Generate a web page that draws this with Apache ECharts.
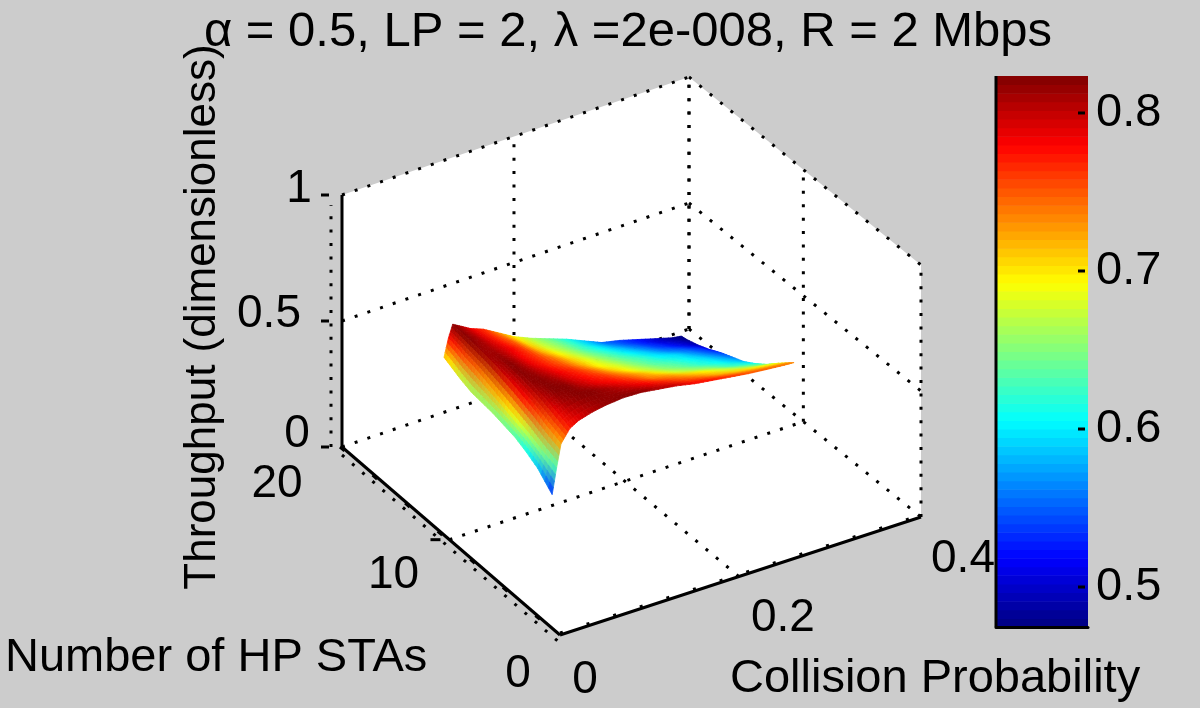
<!DOCTYPE html>
<html lang="en">
  <head>
    <meta charset="UTF-8" />
    <title>Throughput surface</title>
    <script src="https://cdn.jsdelivr.net/npm/echarts@6/dist/echarts.min.js"></script>
    <style>
      html, body { margin: 0; padding: 0; background: #cccccc; }
    </style>
  </head>
  <body>
    <div id="main" style="width: 1200px; height: 708px"></div>
    <script type="text/javascript">
      // collision probability (columns of the table)
      const collisionProb = [0, 0.005, 0.01, 0.02, 0.03, 0.045, 0.06, 0.08, 0.1, 0.12, 0.14, 0.16, 0.18, 0.2, 0.22, 0.24, 0.26, 0.27];
      // number of HP STAs (rows of the table)
      const hpStas = [0.7, 2, 3, 4, 5, 6, 7, 8, 9, 10, 10.5];
      // throughput
      const throughput = [
        [0.53, 0.63, 0.72, 0.77, 0.79, 0.805, 0.815, 0.822, 0.82, 0.81, 0.8, 0.785, 0.775, 0.765, 0.755, 0.748, 0.742, 0.74],
        [0.585, 0.65, 0.74, 0.79, 0.81, 0.822, 0.82, 0.808, 0.795, 0.78, 0.767, 0.752, 0.737, 0.722, 0.71, 0.7, 0.692, 0.688],
        [0.61, 0.67, 0.76, 0.805, 0.822, 0.82, 0.807, 0.79, 0.775, 0.76, 0.74, 0.727, 0.71, 0.697, 0.68, 0.665, 0.65, 0.645],
        [0.63, 0.685, 0.775, 0.815, 0.82, 0.81, 0.795, 0.775, 0.76, 0.74, 0.72, 0.7, 0.68, 0.665, 0.65, 0.632, 0.617, 0.61],
        [0.64, 0.7, 0.79, 0.82, 0.815, 0.8, 0.785, 0.765, 0.742, 0.718, 0.695, 0.675, 0.655, 0.64, 0.623, 0.61, 0.59, 0.58],
        [0.65, 0.715, 0.8, 0.822, 0.81, 0.79, 0.772, 0.752, 0.725, 0.698, 0.677, 0.655, 0.638, 0.623, 0.607, 0.59, 0.57, 0.56],
        [0.655, 0.73, 0.81, 0.815, 0.805, 0.783, 0.765, 0.74, 0.71, 0.685, 0.66, 0.64, 0.623, 0.605, 0.59, 0.57, 0.55, 0.54],
        [0.66, 0.745, 0.815, 0.812, 0.8, 0.78, 0.76, 0.725, 0.695, 0.67, 0.645, 0.625, 0.605, 0.585, 0.565, 0.55, 0.53, 0.515],
        [0.675, 0.755, 0.82, 0.81, 0.795, 0.772, 0.752, 0.712, 0.68, 0.655, 0.63, 0.608, 0.585, 0.565, 0.545, 0.525, 0.505, 0.495],
        [0.695, 0.77, 0.822, 0.807, 0.79, 0.765, 0.74, 0.7, 0.67, 0.645, 0.62, 0.59, 0.565, 0.545, 0.525, 0.505, 0.488, 0.48],
        [0.705, 0.775, 0.825, 0.805, 0.785, 0.765, 0.735, 0.695, 0.665, 0.64, 0.615, 0.585, 0.555, 0.54, 0.52, 0.5, 0.48, 0.475]
      ];
      const xTicks = [0, 0.2, 0.4];
      const yTicks = [0, 10, 20];
      const zTicks = [0, 0.5, 1];
      const xTickLabels = ["0", "0.2", "0.4"];
      const yTickLabels = ["0", "10", "20"];
      const zTickLabels = ["0", "0.5", "1"];
      const colorbarTicks = [0.5, 0.6, 0.7, 0.8];
      const colorLimits = [0.4747, 0.8234];

      const FONT = '"Liberation Sans", Arial, sans-serif';
      const xMax = 0.4, yMax = 20;

      // floor corners of the 3d box in page pixels, slight perspective between them
      const p00 = [560, 635], p10 = [921, 517], p11 = [689, 329], p01 = [342, 447];
      const zScale = 252;
      const dx1 = p10[0] - p11[0], dy1 = p10[1] - p11[1];
      const dx2 = p01[0] - p11[0], dy2 = p01[1] - p11[1];
      const sx = p00[0] - p10[0] + p11[0] - p01[0], sy = p00[1] - p10[1] + p11[1] - p01[1];
      const det = dx1 * dy2 - dx2 * dy1;
      const g = (sx * dy2 - sy * dx2) / det, h = (dx1 * sy - sx * dy1) / det;

      function project(x, y, z) {
        let u = x / xMax, v = y / yMax;
        let w = g * u + h * v + 1;
        let px = ((p10[0] - p00[0] + g * p10[0]) * u + (p01[0] - p00[0] + h * p01[0]) * v + p00[0]) / w;
        let py = ((p10[1] - p00[1] + g * p10[1]) * u + (p01[1] - p00[1] + h * p01[1]) * v + p00[1]) / w;
        return [px, py - zScale * z];
      }

      // matlab jet with 64 levels
      function jetRgb(level) {
        let t = (level + 0.5) / 64;
        let c = (d) => 255 * Math.max(0, Math.min(1, 1.5 - Math.abs(4 * t - d)));
        return [c(3), c(2), c(1)];
      }
      function css(rgb) {
        return "rgb(" + rgb.map((v) => Math.round(v)).join(",") + ")";
      }
      function jet(z) {
        let t = (z - colorLimits[0]) / (colorLimits[1] - colorLimits[0]);
        return jetRgb(Math.max(0, Math.min(63, Math.floor(t * 64))));
      }

      function seg(api, a, b, offset, style) {
        let o = offset || [0, 0];
        let pa = project(a[0], a[1], a[2]), pb = project(b[0], b[1], b[2]);
        let p = api.coord([pa[0] + o[0], pa[1] + o[1]]);
        let q = api.coord([pb[0] + o[0], pb[1] + o[1]]);
        return {
          type: "line",
          shape: { x1: p[0], y1: p[1], x2: q[0], y2: q[1] },
          style: Object.assign({ stroke: "#000", fill: null }, style),
        };
      }

      const dotted = { lineWidth: 3, lineDash: [3, 10.4] };
      const solid = { lineWidth: 3 };

      function tick(api, anchor, from, to) {
        let p = api.coord([anchor[0] + from, anchor[1]]), q = api.coord([anchor[0] + to, anchor[1]]);
        return { type: "line", shape: { x1: p[0], y1: p[1], x2: q[0], y2: q[1] }, style: { stroke: "#000", lineWidth: 3 } };
      }

      function renderBox(params, api) {
        let hull = [[0, yMax, 1], [xMax, yMax, 1], [xMax, 0, 1], [xMax, 0, 0], [0, 0, 0], [0, yMax, 0]];
        let children = [{
          type: "polygon",
          shape: { points: hull.map((c) => api.coord(project(c[0], c[1], c[2]))) },
          style: { fill: "#fff" },
        }];
        // grid on the two back walls
        zTicks.forEach((z) => {
          children.push(seg(api, [0, yMax, z], [xMax, yMax, z], null, dotted));
          children.push(seg(api, [xMax, yMax, z], [xMax, 0, z], null, dotted));
        });
        xTicks.slice(1).forEach((x) => children.push(seg(api, [x, yMax, 0], [x, yMax, 1], null, dotted)));
        yTicks.forEach((y) => children.push(seg(api, [xMax, y, 0], [xMax, y, 1], null, dotted)));
        // grid on the floor
        children.push(seg(api, [xTicks[1], 0, 0], [xTicks[1], yMax, 0], null, dotted));
        children.push(seg(api, [0, yTicks[1], 0], [xMax, yTicks[1], 0], null, dotted));
        // the dotted lines that fall outside the box
        children.push(seg(api, [0, yMax, 0], [0, yMax, 0.96], [-11, 0], dotted));
        children.push(seg(api, [0, yMax, 0], [0, 0, 0], [0, 8], dotted));
        // axis lines
        children.push(seg(api, [0, yMax, 0], [0, yMax, 1], null, solid));
        children.push(seg(api, [0, yMax, 0], [0, 0, 0], null, solid));
        children.push(seg(api, [0, 0, 0], [xMax, 0, 0], null, solid));
        // small bumps along the two floor axes
        children.push(seg(api, [0, 0, 0], [xMax, 0, 0], [0, -2], { lineWidth: 3, lineDash: [3, 25] }));
        children.push(seg(api, [0, yMax, 0], [0, 0, 0], [-2, 0], { lineWidth: 3, lineDash: [6, 37] }));
        // tick marks
        zTicks.forEach((z) => children.push(tick(api, project(0, yMax, z), -21, -13)));
        children.push(tick(api, project(0, yTicks[1], 0), -19, -9));
        return { type: "group", children: children };
      }

      // one mesh cell, colours of its four corners blended like "shading interp"
      const SUB = 4;
      function renderCell(params, api) {
        let r = api.value(0), c = api.value(1);
        let x0 = collisionProb[c], x1 = collisionProb[c + 1];
        let y0 = hpStas[r], y1 = hpStas[r + 1];
        let z00 = throughput[r][c], z10 = throughput[r][c + 1], z01 = throughput[r + 1][c], z11 = throughput[r + 1][c + 1];
        let c00 = jet(z00), c10 = jet(z10), c01 = jet(z01), c11 = jet(z11);
        let mix = (a, b, d, e, s, t) => a * (1 - s) * (1 - t) + b * s * (1 - t) + d * (1 - s) * t + e * s * t;
        let at = (s, t) => ({ x: x0 + (x1 - x0) * s, y: y0 + (y1 - y0) * t, z: mix(z00, z10, z01, z11, s, t) });
        let children = [];
        for (let i = SUB - 1; i >= 0; i--) {
          for (let j = SUB - 1; j >= 0; j--) {
            let corners = [at(j / SUB, i / SUB), at((j + 1) / SUB, i / SUB), at((j + 1) / SUB, (i + 1) / SUB), at(j / SUB, (i + 1) / SUB)];
            let s = (j + 0.5) / SUB, t = (i + 0.5) / SUB;
            let color = css([0, 1, 2].map((k) => mix(c00[k], c10[k], c01[k], c11[k], s, t)));
            children.push({
              type: "polygon",
              shape: { points: corners.map((k) => api.coord(project(k.x, k.y, k.z))) },
              style: { fill: color, stroke: color, lineWidth: 0.8 },
            });
          }
        }
        return { type: "group", children: children };
      }

      function text(api, pos, label) {
        let p = api.coord(pos);
        return {
          type: "text",
          x: p[0],
          y: p[1],
          style: { text: label, fill: "#000", font: "46px " + FONT, textAlign: "center", textVerticalAlign: "middle" },
        };
      }

      function renderTickLabels(params, api) {
        let children = [];
        let zOff = [[-45, -13], [-73, -7], [-43, -6]];
        zTicks.forEach((z, i) => {
          let a = project(0, yMax, z);
          children.push(text(api, [a[0] + zOff[i][0], a[1] + zOff[i][1]], zTickLabels[i]));
        });
        let yOff = [[-42, 39], [-56, 36], [-65, 37]];
        yTicks.forEach((y, i) => {
          let a = project(0, y, 0);
          children.push(text(api, [a[0] + yOff[i][0], a[1] + yOff[i][1]], yTickLabels[i]));
        });
        let xOff = [[25, 45], [44, 42], [42, 42]];
        xTicks.forEach((x, i) => {
          let a = project(x, 0, 0);
          children.push(text(api, [a[0] + xOff[i][0], a[1] + xOff[i][1]], xTickLabels[i]));
        });
        return { type: "group", children: children };
      }

      function renderStripe(params, api) {
        let level = api.value(0);
        let span = (colorLimits[1] - colorLimits[0]) / 64;
        let lo = colorLimits[0] + level * span, hi = lo + span;
        let a = api.coord([0, hi]), b = api.coord([1, lo]);
        return {
          type: "rect",
          shape: { x: a[0], y: a[1], width: b[0] - a[0], height: b[1] - a[1] + 0.5 },
          style: { fill: css(jetRgb(level)) },
        };
      }

      // left edge and inner tick marks of the colour bar
      function renderBarFrame(params, api) {
        let p = api.coord([0, colorLimits[0]]), q = api.coord([0, colorLimits[1]]);
        let children = [{
          type: "line",
          shape: { x1: p[0], y1: p[1], x2: q[0], y2: q[1] },
          style: { stroke: "#000", lineWidth: 3 },
        }];
        colorbarTicks.forEach((v) => {
          let a = api.coord([1, v]);
          children.push({
            type: "line",
            shape: { x1: a[0] - 10, y1: a[1], x2: a[0] - 3, y2: a[1] },
            style: { stroke: "#000", lineWidth: 3 },
          });
        });
        return { type: "group", children: children };
      }

      // far cells first so the nearer ones paint over them
      const cells = [];
      for (let r = hpStas.length - 2; r >= 0; r--) {
        for (let c = collisionProb.length - 2; c >= 0; c--) {
          cells.push([r, c]);
        }
      }
      const stripes = [];
      for (let i = 0; i < 64; i++) stripes.push([i]);

      let myChart = echarts.init(document.getElementById("main"), null, { renderer: "canvas" });
      let options = {
        backgroundColor: "#cccccc",
        animation: false,
        title: {
          text: "α = 0.5, LP = 2, λ =2e-008, R = 2 Mbps",
          left: 623,
          top: 3,
          textAlign: "center",
          textStyle: { fontFamily: FONT, fontSize: 49, fontWeight: "normal", color: "#000" },
        },
        grid: [
          { left: 0, top: 0, width: 1200, height: 708 },
          { left: 996, top: 76, width: 92, height: 551 },
        ],
        xAxis: [
          { type: "value", gridIndex: 0, min: 0, max: 1200, show: false },
          {
            type: "value", gridIndex: 1, min: 0, max: 1,
            axisLine: { show: true, onZero: false, lineStyle: { color: "#000", width: 3 } },
            axisTick: { show: false }, axisLabel: { show: false }, splitLine: { show: false },
            z: 5,
          },
        ],
        yAxis: [
          { type: "value", gridIndex: 0, min: 0, max: 708, inverse: true, show: false },
          {
            type: "value", gridIndex: 1, position: "right",
            min: colorLimits[0], max: colorLimits[1],
            axisLine: { show: false },
            axisTick: { show: false },
            axisLabel: {
              show: true, customValues: colorbarTicks, margin: 8, padding: [10, 0, 0, 0],
              formatter: (v) => v.toFixed(1),
              fontFamily: FONT, fontSize: 47, color: "#000",
            },
            splitLine: { show: false },
            z: 5,
          },
        ],
        series: [
          { type: "custom", xAxisIndex: 0, yAxisIndex: 0, coordinateSystem: "cartesian2d", renderItem: renderBox, data: [[0]], silent: true, clip: false, z: 1 },
          { type: "custom", xAxisIndex: 0, yAxisIndex: 0, coordinateSystem: "cartesian2d", renderItem: renderCell, data: cells, encode: { x: 0, y: 1 }, silent: true, clip: false, z: 2 },
          { type: "custom", xAxisIndex: 0, yAxisIndex: 0, coordinateSystem: "cartesian2d", renderItem: renderTickLabels, data: [[0]], silent: true, clip: false, z: 3 },
          { type: "custom", xAxisIndex: 1, yAxisIndex: 1, coordinateSystem: "cartesian2d", renderItem: renderStripe, data: stripes, encode: { x: 0, y: 0 }, silent: true, clip: true, z: 1 },
          { type: "custom", xAxisIndex: 1, yAxisIndex: 1, coordinateSystem: "cartesian2d", renderItem: renderBarFrame, data: [[0]], silent: true, clip: false, z: 4 },
        ],
        graphic: [
          { type: "text", x: 5, y: 658, style: { text: "Number of HP STAs", font: "47px " + FONT, fill: "#000", textVerticalAlign: "middle" } },
          { type: "text", x: 730, y: 679, style: { text: "Collision Probability", font: "47px " + FONT, fill: "#000", textVerticalAlign: "middle" } },
          { type: "text", x: 203, y: 317, rotation: Math.PI / 2, style: { text: "Throughput (dimensionless)", font: "44px " + FONT, fill: "#000", textAlign: "center", textVerticalAlign: "middle" } },
        ],
      };
      myChart.setOption(options);
    </script>
  </body>
</html>
